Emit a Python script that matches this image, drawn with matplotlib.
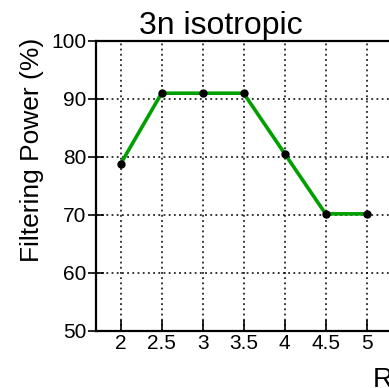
import matplotlib
matplotlib.use("Agg")
import matplotlib.pyplot as plt

# data
radius = [2, 2.5, 3, 3.5, 4, 4.5, 5]
power = [78.8, 91.0, 91.0, 91.0, 80.6, 70.2, 70.2]
xticks = [2, 2.5, 3, 3.5, 4, 4.5, 5, 5.5, 6]
yticks = [50, 60, 70, 80, 90, 100]

plt.rcParams["font.family"] = ["Liberation Sans", "DejaVu Sans"]

W, H = 389, 388
fig = plt.figure(figsize=(W / 100, H / 100), dpi=100)

# axes run past the right edge of the picture (cropped figure)
x0, x1 = 1.7, 6.3
px_per_unit = 82.0
left_px, top_px, bottom_px = 96, 41, 331
right_px = left_px + (x1 - x0) * px_per_unit
ax_w = right_px - left_px
ax = fig.add_axes([left_px / W, 1 - bottom_px / H,
                   ax_w / W, (bottom_px - top_px) / H])

ax.plot(radius, power, color="#00a000", lw=2.6, zorder=3)
ax.plot(radius, power, "o", color="black", ms=5, zorder=4)

ax.set_xlim(x0, x1)
ax.set_ylim(50, 100)
ax.set_xticks(xticks)
ax.set_xticklabels([f"{t:g}" for t in xticks])
ax.set_yticks(yticks)
ax.grid(True, color="black", ls=(0, (1.2, 2.2)), lw=1.1)
ax.tick_params(axis="x", direction="in", length=8, width=1.2, labelsize=15, pad=2)
ax.tick_params(axis="y", direction="inout", length=12, width=1.2, labelsize=15, pad=1)
for s in ax.spines.values():
    s.set_linewidth(1.6)

ax.set_title("3n isotropic", fontsize=23, pad=3,
             x=(221 - left_px) / ax_w)
ax.set_ylabel("Filtering Power (%)", fontsize=19)
ax.yaxis.set_label_coords((44 - left_px) / ax_w, (331 - 150) / 290)
ax.set_xlabel("Radius", fontsize=20, ha="left")
ax.xaxis.set_label_coords((373 - left_px) / ax_w, -0.125)

fig.savefig("out.png", dpi=100)
